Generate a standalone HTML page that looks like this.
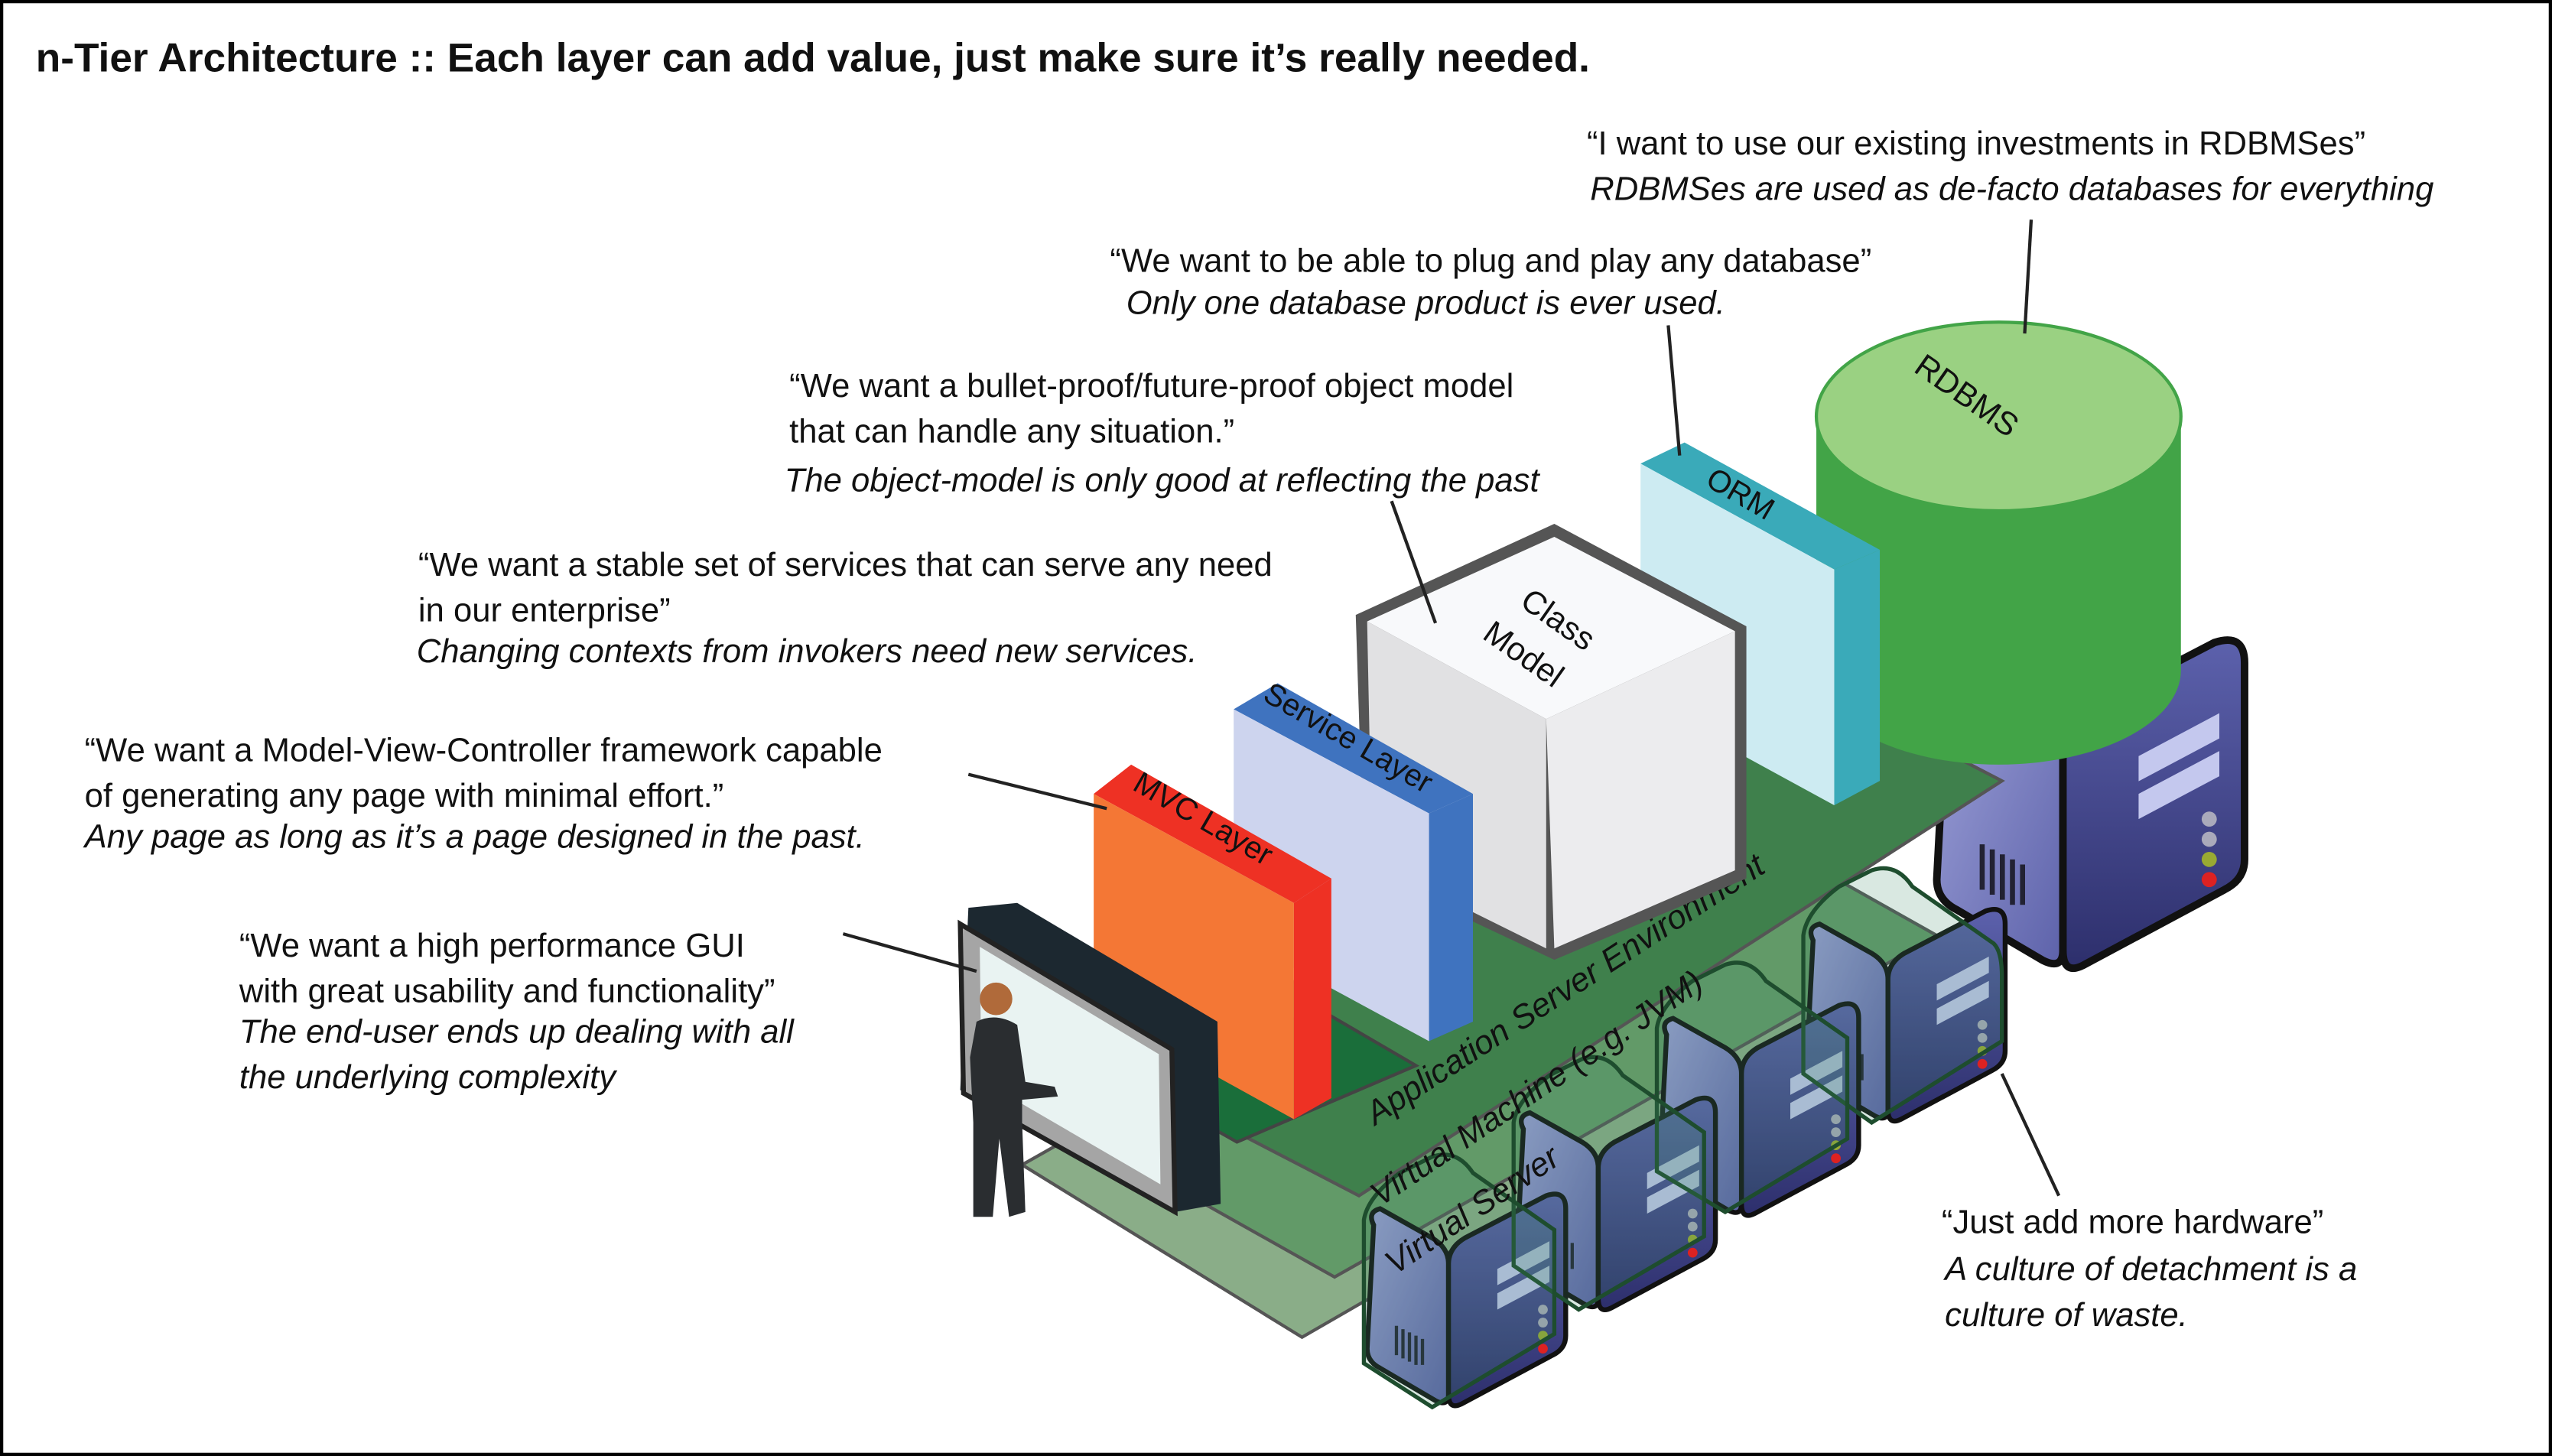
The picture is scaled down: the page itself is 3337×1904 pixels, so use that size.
<!DOCTYPE html>
<html><head><meta charset="utf-8"><style>
html,body{margin:0;padding:0;background:#fff}
svg{display:block}
text{font-family:"Liberation Sans",sans-serif;fill:#111}
.q{font-size:20.5px}
.i{font-size:20.5px;font-style:italic}
</style></head><body>
<svg width="3337" height="1904" viewBox="0 0 1568 895" preserveAspectRatio="none" xmlns="http://www.w3.org/2000/svg">
<defs>
<linearGradient id="sg" x1="0" y1="0" x2="1" y2="1"><stop offset="0" stop-color="#9da1d8"/><stop offset="1" stop-color="#5d62aa"/></linearGradient>
<linearGradient id="fg" x1="0" y1="0" x2="0" y2="1"><stop offset="0" stop-color="#5c61ac"/><stop offset="1" stop-color="#2d2f6c"/></linearGradient>
<g id="srv">
  <path d="M4,18 Q0,10 8,8 L40,26 Q50,32 50,42 L50,122 Q50,130 42,126 L8,106 Q0,102 0,94 Z" fill="url(#sg)" stroke="#111" stroke-width="3"/>
  <path d="M50,42 Q50,32 60,26 L110,0 Q122,-4 122,8 L122,86 Q122,94 114,98 L58,128 Q50,132 50,122 Z" fill="url(#fg)" stroke="#111" stroke-width="3"/>
  <path d="M80,45 L112,28 L112,38 L80,55 Z M80,60 L112,43 L112,53 L80,70 Z" fill="#c4c8ee"/>
  <circle cx="108" cy="70" r="3" fill="#aab"/><circle cx="108" cy="78" r="3" fill="#aab"/><circle cx="108" cy="86" r="3" fill="#9a3"/><circle cx="108" cy="94" r="3" fill="#d22"/>
  <path d="M18,80 v18 M22,82 v18 M26,84 v18 M30,86 v18 M34,88 v16" stroke="#223" stroke-width="2"/>
</g>
</defs>
<rect x="1" y="1" width="1566" height="893" fill="#fff" stroke="#000" stroke-width="2"/>
<text x="22" y="44" style="font-size:25px;font-weight:bold">n-Tier Architecture :: Each layer can add value, just make sure it’s really needed.</text>

<use href="#srv" transform="translate(1190,395) scale(1.55)"/>

<polygon points="628,716 800,822 1150,620 978,518" fill="#8aad88" stroke="#555" stroke-width="2"/>
<polygon points="660,695 820,785 1190,575 1030,485" fill="#629a68" stroke="#555" stroke-width="2"/>
<polygon points="700,665 835,735 1230,480 1095,410" fill="#3f804c" stroke="#555" stroke-width="2"/>
<polygon points="700,668 760,702 870,655 810,620" fill="#1a6e3a" stroke="#444" stroke-width="2"/>

<use href="#srv" transform="translate(1110,560)"/>
<use href="#srv" transform="translate(1020,618)"/>
<use href="#srv" transform="translate(932,676)"/>
<use href="#srv" transform="translate(840,735)"/>
<g fill="#3f8a6a" fill-opacity="0.2" stroke="#1e4d2e" stroke-width="2.5">
<path d="M1108,575 Q1110,560 1130,545 L1150,535 Q1165,530 1175,545 L1225,580 Q1230,585 1230,600 L1230,640 L1150,690 L1108,660 Z"/>
<path d="M1018,632 Q1020,618 1040,603 L1060,593 Q1075,588 1085,603 L1135,638 L1135,700 L1060,745 L1018,720 Z"/>
<path d="M930,690 Q932,676 952,661 L972,651 Q987,646 997,661 L1047,696 L1047,760 L970,805 L930,778 Z"/>
<path d="M838,750 Q840,736 860,721 L880,711 Q895,706 905,721 L955,756 L955,820 L880,865 L838,838 Z"/>
</g>

<text transform="translate(845,692) rotate(-33)" class="i">Application Server Environment</text>
<text transform="translate(848,742) rotate(-34)" class="i">Virtual Machine (e.g. JVM)</text>
<text transform="translate(857,784) rotate(-34)" class="i">Virtual Server</text>

<path d="M1116,256 L1116,412 A112,58 0 0 0 1340,412 L1340,256 Z" fill="#42a447"/>
<ellipse cx="1228" cy="256" rx="112" ry="58" fill="#9ad182" stroke="#42a447" stroke-width="2"/>
<text transform="translate(1175,228) rotate(35)" style="font-size:20px">RDBMS</text>

<polygon points="1008,285 1035,272 1155,338 1127,350" fill="#3aaab9"/>
<polygon points="1127,350 1155,338 1155,480 1127,495" fill="#3aaab9"/>
<polygon points="1008,285 1127,350 1127,495 1008,430" fill="#cdebf2"/>
<text transform="translate(1047,298) rotate(30)" style="font-size:19px">ORM</text>

<polygon points="833,378 955,322 1073,385 1073,540 955,590 838,535" fill="#555"/>
<polygon points="840,382 955,330 1066,388 950,442" fill="#f8f9fb"/>
<polygon points="840,382 950,442 950,583 843,530" fill="#e1e1e3"/>
<polygon points="950,442 1066,388 1066,535 955,583" fill="#ececee"/>
<text transform="translate(933,372) rotate(35)" style="font-size:20px">Class</text>
<text transform="translate(910,392) rotate(35)" style="font-size:20px">Model</text>

<polygon points="758,436 785,420 905,488 878,500" fill="#3f73bf"/>
<polygon points="878,500 905,488 905,628 878,640" fill="#3f73bf"/>
<polygon points="758,436 878,500 878,640 758,575" fill="#cdd4ee"/>
<text transform="translate(775,430) rotate(30)" style="font-size:19px">Service Layer</text>

<polygon points="672,488 695,470 818,540 795,555" fill="#ee3124"/>
<polygon points="795,555 818,540 818,675 795,688" fill="#ee3124"/>
<polygon points="672,488 795,555 795,688 672,620" fill="#f47735"/>
<text transform="translate(695,485) rotate(30)" style="font-size:19px">MVC Layer</text>

<polygon points="595,558 625,555 748,628 750,740 722,745 590,670" fill="#1c2830"/>
<polygon points="590,568 720,645 722,745 592,672" fill="#a5a5a5" stroke="#222" stroke-width="3"/>
<polygon points="602,582 712,648 713,728 603,664" fill="#e9f3f2"/>
<circle cx="612" cy="614" r="10" fill="#b06a3a"/>
<path d="M600,628 Q612,622 625,630 L630,665 L648,668 L650,674 L628,676 L628,690 L630,745 L620,748 L614,700 L610,748 L598,748 L598,690 L596,650 Z" fill="#2a2d30"/>

<g stroke="#222" stroke-width="2">
<line x1="1248" y1="135" x2="1244" y2="205"/>
<line x1="1025" y1="200" x2="1032" y2="280"/>
<line x1="855" y1="308" x2="882" y2="383"/>
<line x1="595" y1="476" x2="680" y2="497"/>
<line x1="518" y1="574" x2="600" y2="597"/>
<line x1="1230" y1="660" x2="1265" y2="735"/>
</g>

<text x="975" y="95" class="q">“I want to use our existing investments in RDBMSes”</text>
<text x="977" y="123" class="i">RDBMSes are used as de-facto databases for everything</text>
<text x="682" y="167" class="q">“We want to be able to plug and play any database”</text>
<text x="692" y="193" class="i">Only one database product is ever used.</text>
<text x="485" y="244" class="q">“We want a bullet-proof/future-proof object model</text>
<text x="485" y="272" class="q">that can handle any situation.”</text>
<text x="482" y="302" class="i">The object-model is only good at reflecting the past</text>
<text x="257" y="354" class="q">“We want a stable set of services that can serve any need</text>
<text x="257" y="382" class="q">in our enterprise”</text>
<text x="256" y="407" class="i">Changing contexts from invokers need new services.</text>
<text x="52" y="468" class="q">“We want a Model-View-Controller framework capable</text>
<text x="52" y="496" class="q">of generating any page with minimal effort.”</text>
<text x="52" y="521" class="i">Any page as long as it’s a page designed in the past.</text>
<text x="147" y="588" class="q">“We want a high performance GUI</text>
<text x="147" y="616" class="q">with great usability and functionality”</text>
<text x="147" y="641" class="i">The end-user ends up dealing with all</text>
<text x="147" y="669" class="i">the underlying complexity</text>
<text x="1193" y="758" class="q">“Just add more hardware”</text>
<text x="1195" y="787" class="i">A culture of detachment is a</text>
<text x="1195" y="815" class="i">culture of waste.</text>
</svg>
</body></html>
